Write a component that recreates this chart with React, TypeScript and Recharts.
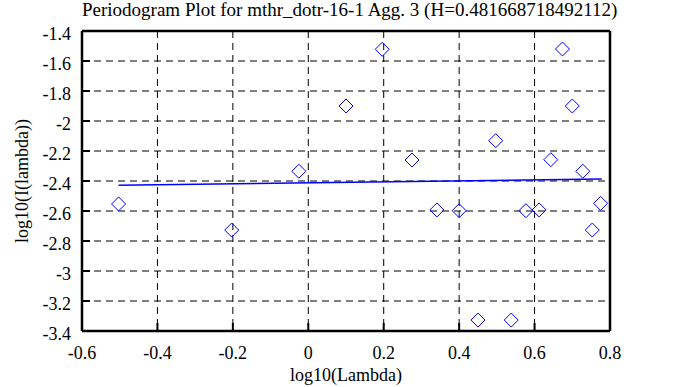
import React from "react";
import { ComposedChart, Scatter, XAxis, YAxis, CartesianGrid } from "recharts";

const TITLE = "Periodogram Plot for mthr_dotr-16-1 Agg. 3 (H=0.481668718492112)";
const X_LABEL = "log10(Lambda)";
const Y_LABEL = "log10(I(lambda))";

// periodogram points (log10 lambda, log10 I)
const logLambda = [
  -0.503, -0.203, -0.025, 0.1, 0.196, 0.275, 0.341, 0.4, 0.45, 0.497,
  0.538, 0.577, 0.612, 0.643, 0.674, 0.7, 0.728, 0.753, 0.775,
];
const logPeriodogram = [
  -2.553, -2.727, -2.335, -1.9, -1.522, -2.26, -2.593, -2.598, -3.327, -2.131,
  -3.327, -2.598, -2.593, -2.258, -1.52, -1.9, -2.335, -2.727, -2.549,
];

// least squares fit endpoints
const fitX = [-0.503, 0.778];
const fitY = [-2.429, -2.387];

const xTicks = [-0.6, -0.4, -0.2, 0, 0.2, 0.4, 0.6, 0.8];
const yTicks = [-3.4, -3.2, -3, -2.8, -2.6, -2.4, -2.2, -2, -1.8, -1.6, -1.4];

const points = logLambda.map((x, i) => ({ x, y: logPeriodogram[i] }));
const fitLine = fitX.map((x, i) => ({ x, y: fitY[i] }));

const FONT = "'Liberation Serif', 'Times New Roman', serif";
const BLUE = "#0000ff";
const TICK_LEN = 8;

const fmt = (v: number) => String(Number(v.toFixed(1)));

const tickText = { fontFamily: FONT, fontSize: 18, fill: "#000" };

// ─── Inward ticks ─────────────────────────────────────────────────────────────
function LeftTick({ x, y, payload }: any) {
  return (
    <g>
      <line x1={x} x2={x + TICK_LEN} y1={y} y2={y} stroke="#000" strokeWidth={2} />
      <text x={x - 11} y={y + 9} textAnchor="end" style={tickText}>
        {fmt(payload.value)}
      </text>
    </g>
  );
}

function RightTick({ x, y }: any) {
  return <line x1={x} x2={x - TICK_LEN} y1={y} y2={y} stroke="#000" strokeWidth={2} />;
}

function BottomTick({ x, y, payload }: any) {
  return (
    <g>
      <line x1={x} x2={x} y1={y} y2={y - TICK_LEN} stroke="#000" strokeWidth={2} />
      <text x={x} y={y + 28} textAnchor="middle" style={tickText}>
        {fmt(payload.value)}
      </text>
    </g>
  );
}

function TopTick({ x, y }: any) {
  return <line x1={x} x2={x} y1={y} y2={y + TICK_LEN} stroke="#000" strokeWidth={2} />;
}

function Diamond({ cx, cy }: any) {
  const r = 7;
  return (
    <polygon
      points={`${cx},${cy - r} ${cx + r},${cy} ${cx},${cy + r} ${cx - r},${cy}`}
      fill="none"
      stroke={BLUE}
      strokeWidth={1}
    />
  );
}

const axisLine = { stroke: "#000", strokeWidth: 2.5 };

export default function App() {
  return (
    <div style={{ position: "absolute", left: 0, top: 0, width: 673, height: 387, background: "#fff" }}>
      <div
        style={{
          position: "absolute",
          left: 82,
          width: 528,
          top: -1,
          textAlign: "center",
          fontFamily: FONT,
          fontSize: 19,
          lineHeight: "22px",
          whiteSpace: "nowrap",
        }}
      >
        {TITLE}
      </div>
      <div
        style={{
          position: "absolute",
          left: 82,
          width: 528,
          top: 364,
          textAlign: "center",
          fontFamily: FONT,
          fontSize: 18,
          lineHeight: "22px",
        }}
      >
        {X_LABEL}
      </div>
      <div
        style={{
          position: "absolute",
          left: 22 - 100,
          top: 181 - 11,
          width: 200,
          textAlign: "center",
          fontFamily: FONT,
          fontSize: 18,
          lineHeight: "22px",
          transform: "rotate(-90deg)",
        }}
      >
        {Y_LABEL}
      </div>
      <ComposedChart
        width={673}
        height={387}
        margin={{ top: 0, right: 0, bottom: 0, left: 0 }}
        style={{ position: "absolute", left: 0, top: 0 }}
      >
        <CartesianGrid stroke="#000" strokeDasharray="7 5" strokeWidth={1} />
        <XAxis
          xAxisId={0}
          dataKey="x"
          type="number"
          domain={[-0.6, 0.8]}
          ticks={xTicks}
          interval={0}
          height={56}
          orientation="bottom"
          tickSize={0}
          tickMargin={0}
          axisLine={axisLine}
          tickLine={false}
          tick={<BottomTick />}
        />
        <XAxis
          xAxisId="top"
          dataKey="x"
          type="number"
          domain={[-0.6, 0.8]}
          ticks={xTicks}
          interval={0}
          height={31}
          orientation="top"
          tickSize={0}
          tickMargin={0}
          axisLine={axisLine}
          tickLine={false}
          tick={<TopTick />}
        />
        <YAxis
          yAxisId={0}
          dataKey="y"
          type="number"
          domain={[-3.4, -1.4]}
          ticks={yTicks}
          interval={0}
          width={82}
          orientation="left"
          tickSize={0}
          tickMargin={0}
          axisLine={axisLine}
          tickLine={false}
          tick={<LeftTick />}
        />
        <YAxis
          yAxisId="right"
          dataKey="y"
          type="number"
          domain={[-3.4, -1.4]}
          ticks={yTicks}
          interval={0}
          width={63}
          orientation="right"
          tickSize={0}
          tickMargin={0}
          axisLine={axisLine}
          tickLine={false}
          tick={<RightTick />}
        />
        <Scatter
          data={fitLine}
          line={{ stroke: BLUE, strokeWidth: 1.5 }}
          lineType="joint"
          shape={() => <g />}
          isAnimationActive={false}
        />
        <Scatter data={points} shape={<Diamond />} isAnimationActive={false} />
      </ComposedChart>
    </div>
  );
}
